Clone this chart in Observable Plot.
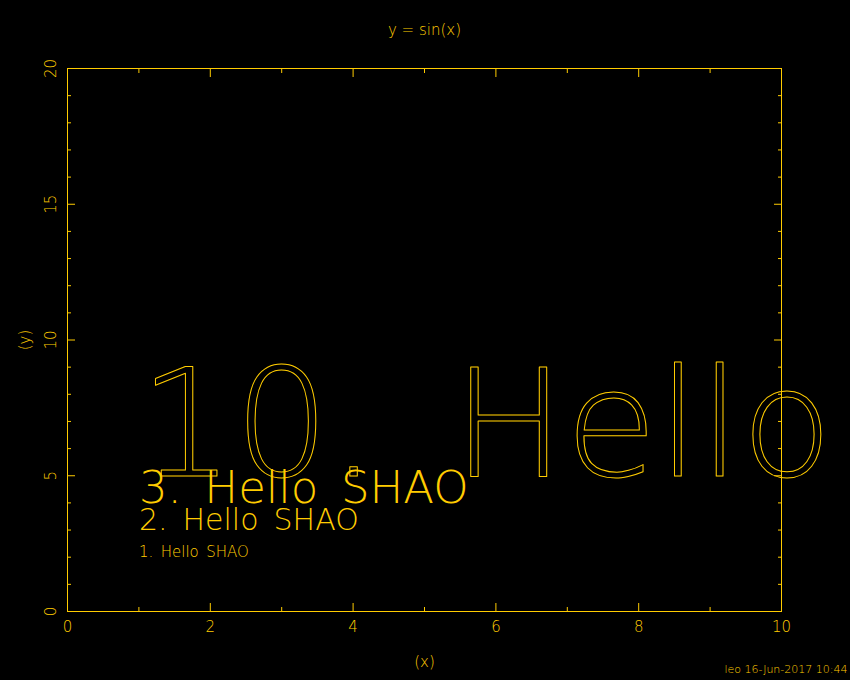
<!DOCTYPE html>
<html>
<head>
<meta charset="utf-8">
<script src="https://cdn.jsdelivr.net/npm/d3@7"></script>
<script src="https://cdn.jsdelivr.net/npm/@observablehq/plot@0.6"></script>
<style>
  html, body { margin: 0; padding: 0; background: #000; }
  #chart svg { display: block; }
  g[aria-label="hello"] text, g[aria-label="hello-big"] text { letter-spacing: 0.05em; }
</style>
</head>
<body>
<div id="chart"></div>
<script>
const COLOR = "#ffcc00";

// Axes
const xDomain = [0, 10];
const yDomain = [0, 20];
const xMajorTicks = [0, 2, 4, 6, 8, 10];
const xMinorTicks = [1, 3, 5, 7, 9];
const yMajorTicks = [0, 5, 10, 15, 20];
const yMinorTicks = [1, 2, 3, 4, 6, 7, 8, 9, 11, 12, 13, 14, 16, 17, 18, 19];

// Text annotations
const labels = ["1. Hello SHAO", "2. Hello SHAO", "3. Hello SHAO", "10. Hello SHAO"];
const labelX = [1, 1, 1, 1];
const labelY = [2, 3, 4, 5];

const titleText = "y = sin(x)";
const xLabel = "(x)";
const yLabel = "(y)";
const footer = "leo 16-Jun-2017 10:44";

const annotations = labels.map((t, i) => ({text: t, x: labelX[i], y: labelY[i], size: parseInt(t)}));
const smallAnn = annotations.filter(d => d.size < 10);
const bigAnn = annotations.filter(d => d.size >= 10);
// the original stroke font has wide spaces: render spaces as en spaces
const wide = d => d.text.replace(/ /g, "\u2002");

const tickAxis = (fn, anchor, ticks, size) =>
  fn({anchor, ticks, tickSize: -size, fill: "none", stroke: COLOR, label: null});

const chart = Plot.plot({
  width: 850,
  height: 680,
  marginLeft: 67,
  marginRight: 69,
  marginTop: 68,
  marginBottom: 69,
  style: {background: "#000", color: COLOR, fontFamily: "DejaVu Sans", fontWeight: 200},
  x: {domain: xDomain, axis: null},
  y: {domain: yDomain, axis: null},
  marks: [
    Plot.frame({stroke: COLOR}),
    tickAxis(Plot.axisX, "bottom", xMajorTicks, 8),
    tickAxis(Plot.axisX, "bottom", xMinorTicks, 4),
    tickAxis(Plot.axisX, "top", xMajorTicks, 8),
    tickAxis(Plot.axisX, "top", xMinorTicks, 4),
    tickAxis(Plot.axisY, "left", yMajorTicks, 8),
    tickAxis(Plot.axisY, "left", yMinorTicks, 4),
    tickAxis(Plot.axisY, "right", yMajorTicks, 8),
    tickAxis(Plot.axisY, "right", yMinorTicks, 4),
    Plot.text(xMajorTicks, {x: d => d, frameAnchor: "bottom", dy: 16, lineAnchor: "middle", text: d => String(d), fill: COLOR, fontSize: 15}),
    Plot.text(yMajorTicks, {y: d => d, frameAnchor: "left", dx: -16, rotate: -90, lineAnchor: "middle", textAnchor: "middle", text: d => String(d), fill: COLOR, fontSize: 15}),
    Plot.text([titleText], {frameAnchor: "top", dy: -38, lineAnchor: "middle", text: d => d, fill: COLOR, fontSize: 15}),
    Plot.text([xLabel], {frameAnchor: "bottom", dy: 51, lineAnchor: "middle", text: d => d, fill: COLOR, fontSize: 15}),
    Plot.text([yLabel], {frameAnchor: "left", dx: -42, rotate: -90, lineAnchor: "middle", textAnchor: "middle", text: d => d, fill: COLOR, fontSize: 15}),
    Plot.text([footer], {frameAnchor: "bottom-right", dx: 66, dy: 58, textAnchor: "end", lineAnchor: "middle", text: d => d, fill: COLOR, fontSize: 11}),
    Plot.text(smallAnn, {x: "x", y: "y", text: wide, fontSize: d => 15 * d.size, textAnchor: "start", lineAnchor: "bottom", fill: COLOR, ariaLabel: "hello"}),
    Plot.text(bigAnn, {x: "x", y: "y", text: wide, fontSize: d => 15 * d.size, textAnchor: "start", lineAnchor: "bottom", fill: "none", stroke: COLOR, strokeWidth: 1, ariaLabel: "hello-big"})
  ]
});
document.getElementById("chart").appendChild(chart);
</script>
</body>
</html>
